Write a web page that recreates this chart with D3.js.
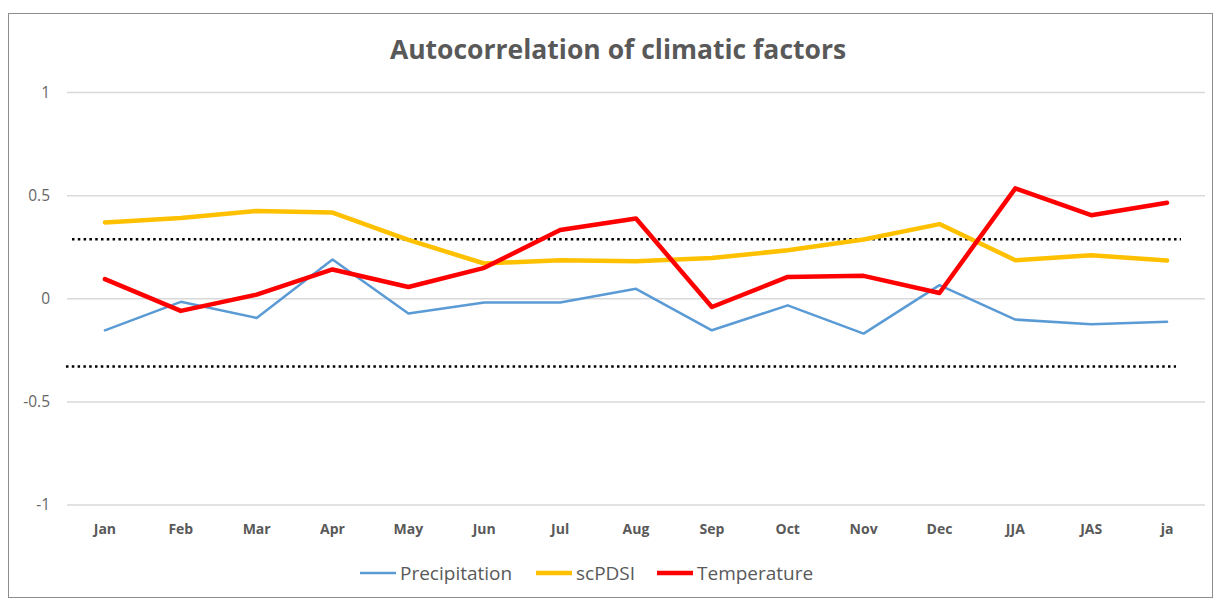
<!DOCTYPE html>
<html lang="en">
<head>
<meta charset="UTF-8">
<title>Autocorrelation of climatic factors</title>
<script src="https://d3js.org/d3.v7.min.js"></script>
<style>
    body { margin: 0; background: #fff; font-family: "Open Sans", "Noto Sans", sans-serif; }
    svg { display: block; }
</style>
</head>
<body>
<div id="chart"></div>
<script>
    const categories = ["Jan", "Feb", "Mar", "Apr", "May", "Jun", "Jul", "Aug", "Sep", "Oct", "Nov", "Dec", "JJA", "JAS", "ja"];
    const precipitation = [-0.153, -0.015, -0.093, 0.19, -0.072, -0.018, -0.018, 0.048, -0.153, -0.032, -0.169, 0.066, -0.101, -0.124, -0.111];
    const scpdsi = [0.37, 0.392, 0.426, 0.418, 0.285, 0.171, 0.187, 0.182, 0.198, 0.235, 0.287, 0.362, 0.187, 0.211, 0.185];
    const temperature = [0.095, -0.059, 0.02, 0.142, 0.057, 0.15, 0.333, 0.389, -0.04, 0.106, 0.111, 0.028, 0.535, 0.405, 0.465];
    const yTicks = [-1, -0.5, 0, 0.5, 1];
    const thresholds = [0.289, -0.328];

    const series = [
        { name: "Precipitation", values: precipitation, color: "#5b9bd5", width: 2.5 },
        { name: "scPDSI", values: scpdsi, color: "#ffc000", width: 4.5 },
        { name: "Temperature", values: temperature, color: "#ff0000", width: 4.5 }
    ];

    const width = 1215, height = 599;
    const margin = { top: 92.5, right: 10, bottom: 94, left: 67 };

    const svg = d3.select("#chart").append("svg")
        .attr("width", width)
        .attr("height", height);

    svg.append("rect")
        .attr("x", 8.5).attr("y", 13.5)
        .attr("width", width - 11).attr("height", height - 15)
        .attr("fill", "#fff")
        .attr("stroke", "#8c8c8c")
        .attr("stroke-width", 1);

    const x = d3.scaleBand().domain(categories).range([margin.left, width - margin.right]);
    // 1 -> 92.5, -1 -> 505
    const y = d3.scaleLinear().domain([-1, 1]).range([505, margin.top]);

    // gridlines
    svg.append("g")
        .selectAll("line")
        .data(yTicks)
        .join("line")
        .attr("x1", margin.left)
        .attr("x2", width - margin.right)
        .attr("y1", d => y(d))
        .attr("y2", d => y(d))
        .attr("stroke", "#d9d9d9")
        .attr("stroke-width", 1.5);

    // y labels
    svg.append("g")
        .selectAll("text")
        .data(yTicks)
        .join("text")
        .attr("x", 50)
        .attr("y", d => y(d))
        .attr("dy", "0.35em")
        .attr("text-anchor", "end")
        .attr("fill", "#666")
        .style("font-size", "15.5px")
        .text(d => d);

    // x labels
    svg.append("g")
        .selectAll("text")
        .data(categories)
        .join("text")
        .attr("x", d => x(d) + x.bandwidth() / 2)
        .attr("y", 534)
        .attr("text-anchor", "middle")
        .attr("fill", "#595959")
        .style("font-size", "14px")
        .style("font-weight", "bold")
        .text(d => d);

    // threshold dotted lines
    svg.append("g")
        .selectAll("line")
        .data(thresholds)
        .join("line")
        .attr("x1", (d, i) => i === 0 ? 72 : 66)
        .attr("x2", (d, i) => i === 0 ? 1181 : 1176)
        .attr("y1", d => y(d))
        .attr("y2", d => y(d))
        .attr("stroke", "#000")
        .attr("stroke-width", 2.5)
        .attr("stroke-dasharray", "2.5,3.3");

    const line = d3.line()
        .x((d, i) => x(categories[i]) + x.bandwidth() / 2)
        .y(d => y(d));

    svg.append("g")
        .selectAll("path")
        .data(series)
        .join("path")
        .attr("d", d => line(d.values))
        .attr("fill", "none")
        .attr("stroke", d => d.color)
        .attr("stroke-width", d => d.width)
        .attr("stroke-linejoin", "round")
        .attr("stroke-linecap", "round");

    // title
    svg.append("text")
        .attr("x", 618)
        .attr("y", 59)
        .attr("text-anchor", "middle")
        .attr("fill", "#595959")
        .style("font-size", "26.5px")
        .style("font-weight", "bold")
        .text("Autocorrelation of climatic factors");

    // legend
    const legendX = [360, 536, 657];
    const legend = svg.append("g")
        .selectAll("g")
        .data(series)
        .join("g")
        .attr("transform", (d, i) => `translate(${legendX[i]}, 573)`);

    legend.append("line")
        .attr("x1", 0).attr("x2", 36)
        .attr("stroke", d => d.color)
        .attr("stroke-width", d => d.width);

    legend.append("text")
        .attr("x", 40)
        .attr("dy", "0.35em")
        .attr("fill", "#595959")
        .style("font-size", "19px")
        .text(d => d.name);
</script>
</body>
</html>
